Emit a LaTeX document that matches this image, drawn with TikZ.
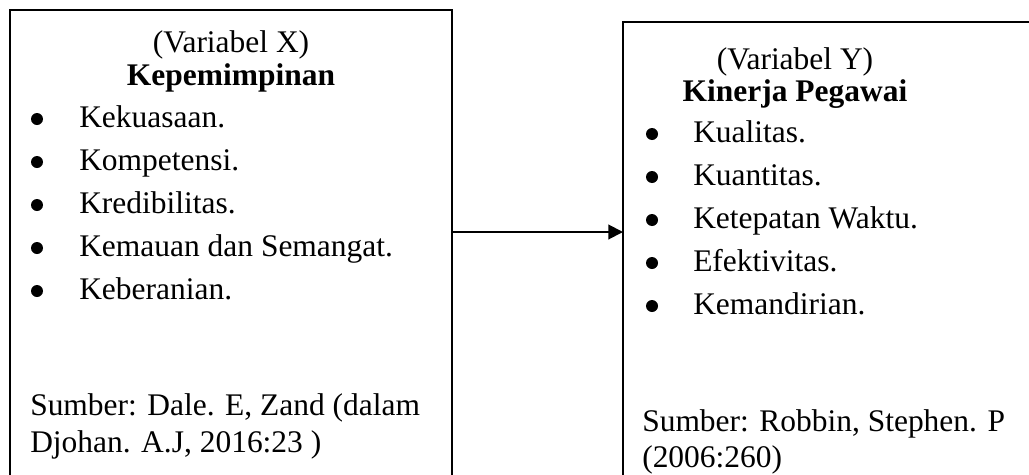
\documentclass[tikz,border=0pt]{standalone}
\usepackage{fontspec}
\setmainfont{Liberation Serif}
\usetikzlibrary{arrows.meta}
\begin{document}
\begin{tikzpicture}[x=0.75pt,y=-0.75pt,
  box/.style={draw=black,line width=1.5pt},
  txt/.style={anchor=base west,inner sep=0pt,font=\fontsize{23.6}{28}\selectfont},
  ttl/.style={anchor=base,inner sep=0pt,font=\fontsize{23.6}{28}\selectfont},
  bul/.style={circle,fill=black,inner sep=0pt,minimum size=9pt},
  conn/.style={line width=1.5pt,-{Triangle[length=11pt,width=11pt]}}]
\useasboundingbox (0,0) rectangle (1029,475);
\begin{scope}
\clip (0,0) rectangle (1029,475);
\draw[box] (10,10) rectangle (452,490);
\draw[box] (623,22) rectangle (1040,490);
\end{scope}
\coordinate (L) at (452,232);
\coordinate (R) at (623,232);
\draw[conn] (L) -- (R);
% left box
\node[ttl] (lt1) at (231,52) {(Variabel X)};
\node[ttl,font=\fontsize{23.6}{28}\selectfont\bfseries] (lt2) at (231,85) {Kepemimpinan};
\foreach \t [count=\i] in {Kekuasaan.,Kompetensi.,Kredibilitas.,Kemauan dan Semangat.,Keberanian.}{
  \node[bul] (lb\i) at (37,{127+43*(\i-1)-8}) {};
  \node[txt] (li\i) at (79,{127+43*(\i-1)}) {\t};
}
\node[txt] (ls1) at (30,415) {Sumber: Dale. E, Zand (dalam};
\node[txt] (ls2) at (30,452) {Djohan. A.J, 2016:23 )};
% right box
\node[ttl] (rt1) at (795,69) {(Variabel Y)};
\node[ttl,font=\fontsize{23.6}{28}\selectfont\bfseries] (rt2) at (795,101) {Kinerja Pegawai};
\foreach \t [count=\i] in {Kualitas.,Kuantitas.,Ketepatan Waktu.,Efektivitas.,Kemandirian.}{
  \node[bul] (rb\i) at (652,{142+43*(\i-1)-8}) {};
  \node[txt] (ri\i) at (693,{142+43*(\i-1)}) {\t};
}
\node[txt] (rs1) at (642,431) {Sumber: Robbin, Stephen. P};
\node[txt] (rs2) at (642,467) {(2006:260)};
\end{tikzpicture}
\end{document}
